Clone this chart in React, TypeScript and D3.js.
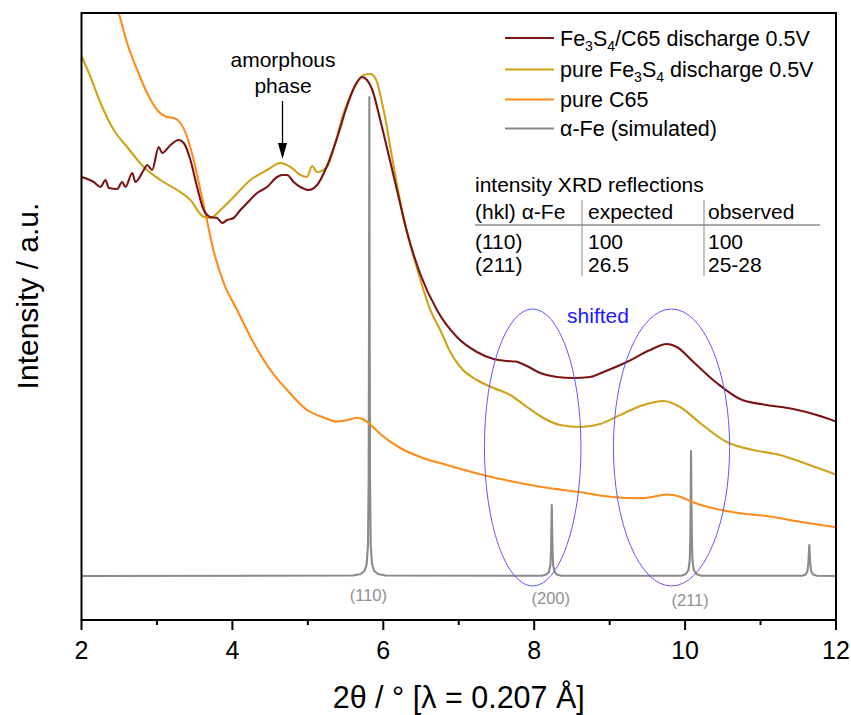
import React from "react";
import * as d3 from "d3";

const W = 851;
const H = 715;
const PLOT = { left: 81.5, right: 836, top: 13, bottom: 620 };

const xDomain: [number, number] = [2, 12];
const yDomain: [number, number] = [0, 607];
const xTicksMajor = [2, 4, 6, 8, 10, 12];
const xTicksMinor = [3, 5, 7, 9, 11];

// Fe3S4/C65 discharge 0.5V
const fe3s4C65: [number, number][] = [
  [2.0, 443], [2.163, 438], [2.252, 433], [2.318, 440], [2.362, 432], [2.473, 431],
  [2.539, 438], [2.583, 433], [2.672, 447], [2.715, 438], [2.825, 450], [2.87, 455],
  [2.936, 450], [3.024, 473], [3.069, 467], [3.179, 475], [3.289, 480], [3.355, 477],
  [3.444, 460], [3.532, 433], [3.62, 410], [3.709, 403], [3.797, 402], [3.864, 397],
  [3.93, 400], [4.017, 402], [4.106, 410], [4.195, 417], [4.327, 427], [4.46, 433],
  [4.592, 443], [4.658, 445], [4.725, 445], [4.812, 438], [4.901, 433], [5.011, 430],
  [5.122, 435], [5.254, 454], [5.387, 482], [5.519, 514], [5.629, 535], [5.718, 543],
  [5.784, 540], [5.85, 531], [5.96, 500], [6.049, 472], [6.181, 430], [6.314, 388],
  [6.49, 346], [6.711, 310], [6.976, 283], [7.241, 268], [7.461, 261], [7.638, 259],
  [7.75, 258.5], [7.903, 254], [8.079, 247], [8.301, 243], [8.521, 242], [8.742, 243],
  [8.918, 248], [9.228, 258], [9.536, 270], [9.757, 276], [9.89, 273], [10.11, 258],
  [10.42, 237], [10.728, 221], [11.082, 215], [11.434, 211], [11.744, 205], [12.0, 198.5],
];

// pure Fe3S4 discharge 0.5V
const pureFe3s4: [number, number][] = [
  [2.0, 564], [2.119, 543], [2.252, 517], [2.428, 490], [2.605, 473], [2.825, 453],
  [3.046, 440], [3.268, 430], [3.444, 420], [3.62, 403], [3.709, 402], [3.841, 410],
  [4.017, 423], [4.238, 440], [4.46, 450], [4.636, 457], [4.768, 453], [4.901, 445],
  [4.989, 443], [5.056, 454], [5.122, 448], [5.254, 453], [5.36, 476], [5.474, 507],
  [5.607, 531], [5.739, 545], [5.828, 546], [5.894, 542], [6.004, 510], [6.136, 454],
  [6.269, 402], [6.446, 352], [6.623, 310], [6.755, 290], [6.887, 268], [7.02, 253],
  [7.241, 240], [7.461, 232], [7.682, 225], [7.903, 213], [8.123, 202], [8.344, 195],
  [8.609, 193], [8.874, 196], [9.139, 205], [9.448, 215], [9.713, 219], [9.934, 213],
  [10.199, 197], [10.552, 178], [10.905, 170], [11.258, 165], [11.612, 156], [12.0, 145.5],
];

// pure C65
const pureC65: [number, number][] = [
  [2.0, 800], [2.053, 770], [2.185, 705], [2.318, 655], [2.411, 628], [2.494, 607],
  [2.605, 577], [2.738, 550], [2.87, 527], [3.003, 510], [3.135, 503], [3.223, 502],
  [3.311, 497], [3.4, 483], [3.487, 460], [3.576, 430], [3.656, 402], [3.748, 370],
  [3.885, 337], [4.062, 310], [4.282, 277], [4.503, 250], [4.725, 230], [4.989, 210],
  [5.209, 202.5], [5.387, 198.5], [5.5, 199.5], [5.652, 202.3], [5.739, 200.5],
  [5.828, 195.5], [5.96, 186], [6.225, 172], [6.49, 163], [6.844, 155], [7.374, 144],
  [7.726, 138.3], [8.123, 132.7], [8.566, 128.3], [9.007, 123.3], [9.404, 121.7],
  [9.58, 123.3], [9.758, 125.5], [9.934, 123.3], [10.11, 117.5], [10.375, 111.7],
  [10.728, 106.7], [11.082, 104], [11.434, 99.3], [12.0, 92.7],
];

// alpha-Fe (simulated)
const alphaFe: [number, number][] = [
  [2.0, 44], [5.6, 44.5], [5.7, 46], [5.75, 49], [5.78, 56], [5.797, 75], [5.806, 140],
  [5.811, 300], [5.815, 523], [5.819, 300], [5.824, 140], [5.833, 75], [5.85, 56],
  [5.88, 49], [5.93, 46], [6.03, 44.5], [8.1, 44.2], [8.16, 45.5], [8.195, 48],
  [8.215, 55], [8.223, 70], [8.229, 95], [8.233, 115], [8.237, 95], [8.243, 70],
  [8.251, 55], [8.27, 48], [8.3, 45.5], [8.36, 44.2], [9.95, 44.3], [10.01, 46],
  [10.045, 50], [10.062, 60], [10.07, 85], [10.075, 130], [10.079, 169], [10.083, 130],
  [10.089, 85], [10.097, 60], [10.115, 50], [10.15, 46], [10.21, 44.3], [11.55, 44.2],
  [11.6, 45.5], [11.622, 49], [11.634, 57], [11.641, 68], [11.646, 75], [11.651, 68],
  [11.658, 57], [11.67, 49], [11.695, 45.5], [11.75, 44.2], [12.0, 44],
];

const peakLabels = ["(110)", "(200)", "(211)"];
const peakPositions = [5.815, 8.233, 10.079];

const seriesColors = ["#7B1515", "#D0A21A", "#FF8C1A", "#8A8A8A"];

const tableTitle = "intensity XRD reflections";
const tableHeader = ["(hkl) \u03B1-Fe", "expected", "observed"];
const tableRows = [
  ["(110)", "100", "100"],
  ["(211)", "26.5", "25-28"],
];

// shifted ellipses (centre x, half-width in 2θ)
const ellipseCentres = [7.98, 9.82];
const ellipseHalfWidths = [0.64, 0.77];

const FONT = "'Liberation Sans', Arial, Helvetica, sans-serif";

export default function App() {
  const x = d3.scaleLinear().domain(xDomain).range([PLOT.left, PLOT.right]);
  const y = d3.scaleLinear().domain(yDomain).range([PLOT.bottom, PLOT.top]);

  const smooth = d3
    .line<[number, number]>()
    .x((d) => x(d[0]))
    .y((d) => y(d[1]))
    .curve(d3.curveMonotoneX);
  const straight = d3
    .line<[number, number]>()
    .x((d) => x(d[0]))
    .y((d) => y(d[1]));

  const series = [
    { data: alphaFe, path: straight, color: seriesColors[3] },
    { data: pureC65, path: smooth, color: seriesColors[2] },
    { data: pureFe3s4, path: smooth, color: seriesColors[1] },
    { data: fe3s4C65, path: smooth, color: seriesColors[0] },
  ];

  const legendY = [38, 69.5, 99.5, 128.5];
  const legendLabels = [
    <>Fe<tspan dy={5} fontSize={14}>3</tspan><tspan dy={-5}>S</tspan><tspan dy={5} fontSize={14}>4</tspan><tspan dy={-5}>/C65 discharge 0.5V</tspan></>,
    <>pure Fe<tspan dy={5} fontSize={14}>3</tspan><tspan dy={-5}>S</tspan><tspan dy={5} fontSize={14}>4</tspan><tspan dy={-5}> discharge 0.5V</tspan></>,
    <>pure C65</>,
    <>{"\u03B1-Fe (simulated)"}</>,
  ];

  const ellCy = y(172.5);
  const ellRy = y(0) - y(138.5);

  return (
    <svg
      width={W}
      height={H}
      style={{ position: "absolute", left: 0, top: 0, background: "#fff" }}
      fontFamily={FONT}
    >
      <defs>
        <clipPath id="plotClip">
          <rect x={PLOT.left} y={PLOT.top} width={PLOT.right - PLOT.left} height={PLOT.bottom - PLOT.top} />
        </clipPath>
      </defs>
      <rect width={W} height={H} fill="#fff" />

      <g clipPath="url(#plotClip)">
        {series.map((s, i) => (
          <path key={i} d={s.path(s.data) || ""} fill="none" stroke={s.color} strokeWidth={2.1} strokeLinejoin="round" />
        ))}
        {ellipseCentres.map((c, i) => (
          <ellipse
            key={i}
            cx={x(c)}
            cy={ellCy}
            rx={x(c + ellipseHalfWidths[i]) - x(c)}
            ry={ellRy}
            fill="none"
            stroke="#5a5aff"
            strokeWidth={1}
          />
        ))}
      </g>

      {/* frame */}
      <rect
        x={PLOT.left}
        y={PLOT.top}
        width={PLOT.right - PLOT.left}
        height={PLOT.bottom - PLOT.top}
        fill="none"
        stroke="#000"
        strokeWidth={2}
      />
      {xTicksMajor.map((t) => (
        <g key={"M" + t}>
          <line x1={x(t)} x2={x(t)} y1={PLOT.bottom} y2={PLOT.bottom + 10} stroke="#000" strokeWidth={2} />
          <text x={x(t)} y={659} textAnchor="middle" fontSize={25}>{t}</text>
        </g>
      ))}
      {xTicksMinor.map((t) => (
        <line key={"m" + t} x1={x(t)} x2={x(t)} y1={PLOT.bottom} y2={PLOT.bottom + 5} stroke="#000" strokeWidth={2} />
      ))}

      <text x={(PLOT.left + PLOT.right) / 2} y={708} textAnchor="middle" fontSize={30.5}>
        {"2\u03B8 / \u00B0 [\u03BB = 0.207 \u00C5]"}
      </text>
      <text transform="translate(38,296) rotate(-90)" textAnchor="middle" fontSize={30}>
        Intensity / a.u.
      </text>

      {/* peak labels */}
      {peakLabels.map((l, i) => (
        <text key={l} x={x(peakPositions[i]) - 1} y={601 + i * 2.5} textAnchor="middle" fontSize={16.5} fill="#909090">
          {l}
        </text>
      ))}

      {/* legend */}
      {legendLabels.map((lab, i) => (
        <g key={i}>
          <line x1={505} x2={554} y1={legendY[i]} y2={legendY[i]} stroke={seriesColors[i]} strokeWidth={2} />
          <text x={560} y={legendY[i] + 7.5} fontSize={21.5}>{lab}</text>
        </g>
      ))}

      {/* amorphous phase annotation */}
      <text x={283} y={67} textAnchor="middle" fontSize={21}>amorphous</text>
      <text x={283} y={93} textAnchor="middle" fontSize={21}>phase</text>
      <line x1={282.5} x2={282.5} y1={101} y2={145} stroke="#000" strokeWidth={1.3} />
      <path d="M278,143 L287,143 L282.5,159 Z" fill="#000" />

      {/* shifted */}
      <text x={598} y={323} textAnchor="middle" fontSize={21} fill="#1a1aff">shifted</text>

      {/* table */}
      <text x={475} y={192} fontSize={21}>{tableTitle}</text>
      {tableHeader.map((h, i) => (
        <text key={h} x={[475, 588, 708][i]} y={219} fontSize={21}>{h}</text>
      ))}
      <line x1={475} x2={820} y1={225} y2={225} stroke="#555" strokeWidth={1} />
      <line x1={582} x2={582} y1={200} y2={276} stroke="#888" strokeWidth={1} />
      <line x1={704} x2={704} y1={200} y2={276} stroke="#888" strokeWidth={1} />
      {tableRows.map((r, ri) =>
        r.map((c, ci) => (
          <text key={ri + "-" + ci} x={[475, 588, 708][ci]} y={249 + ri * 23} fontSize={21}>{c}</text>
        ))
      )}
    </svg>
  );
}
